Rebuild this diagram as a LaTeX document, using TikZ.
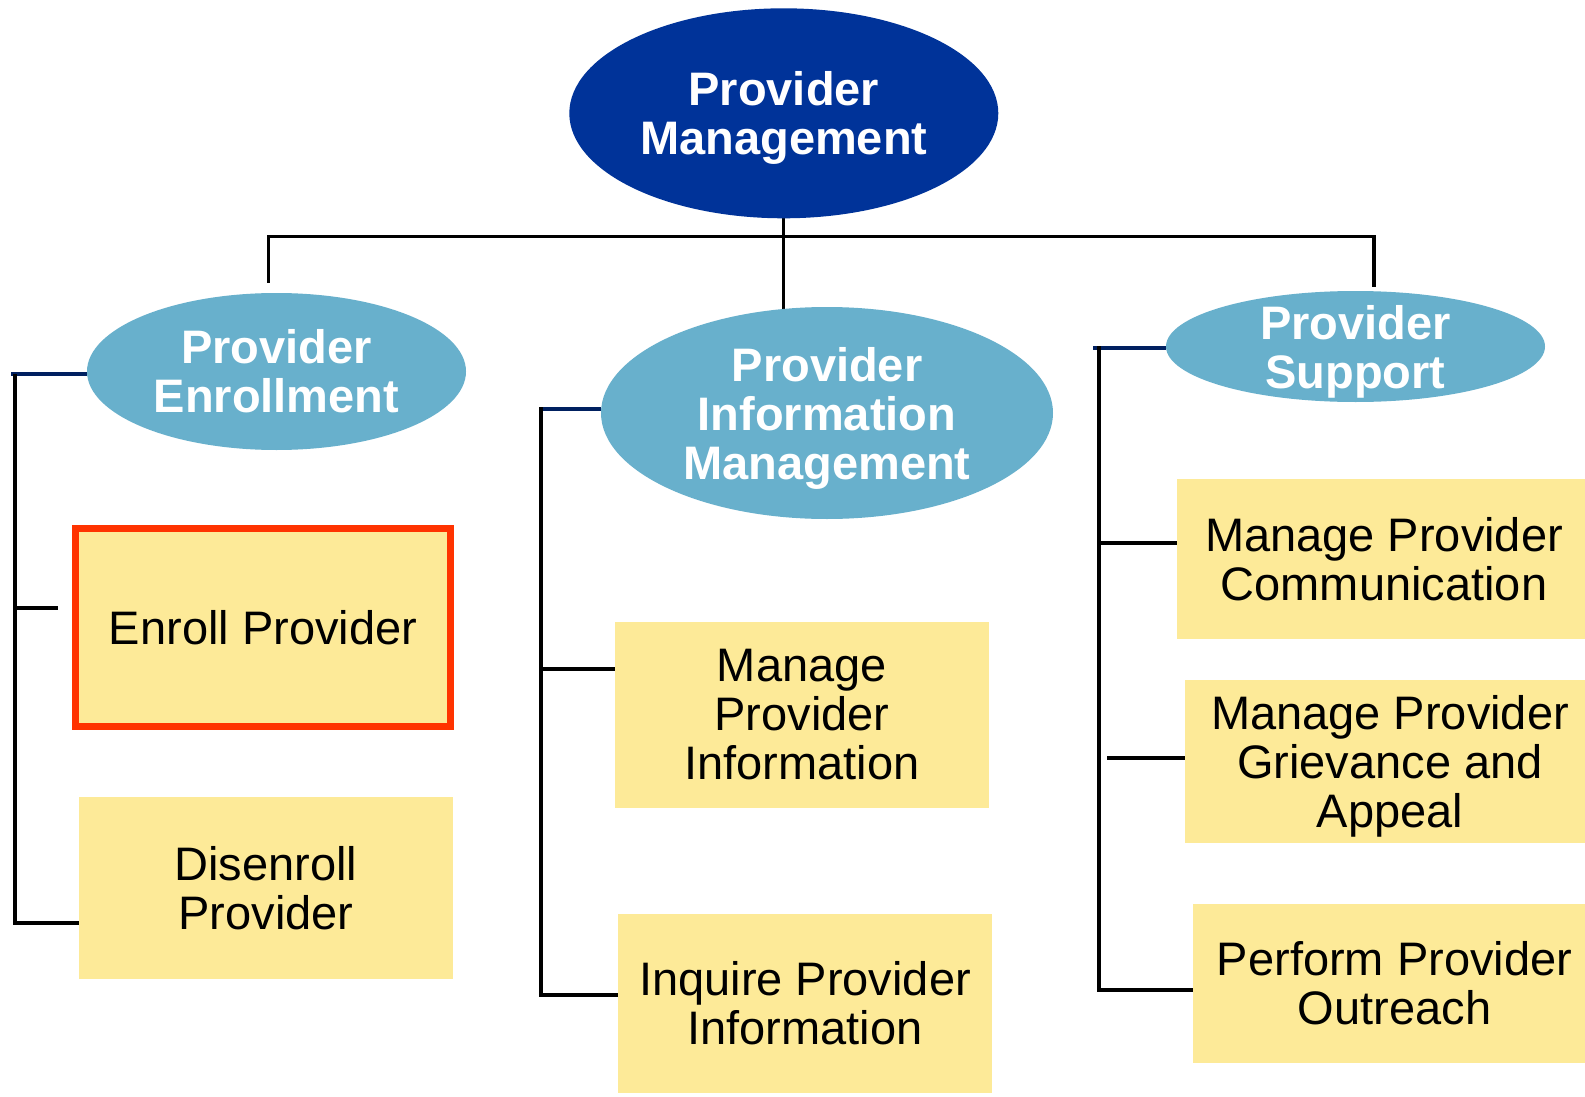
\documentclass[tikz,border=0pt]{standalone}
\usepackage{fontspec}
\setmainfont{Liberation Sans}
\usetikzlibrary{shapes.geometric}
\definecolor{pmblue}{RGB}{0,51,153}
\definecolor{subblue}{RGB}{104,176,204}
\definecolor{boxyellow}{RGB}{253,234,152}
\definecolor{hired}{RGB}{255,51,0}
\definecolor{tickblue}{RGB}{0,32,96}
\newcommand{\nodepth}[1]{\raisebox{0pt}[\height][0pt]{#1}}
\pgfdeclarelayer{bg}
\pgfsetlayers{bg,main}
\begin{document}
\begin{tikzpicture}[x=1pt,y=-1pt,
  every node/.style={inner sep=0pt,outer sep=0pt},
  topell/.style={ellipse,fill=pmblue,text=white,align=center,inner ysep=-25pt,
    font=\fontsize{47}{49}\selectfont\bfseries},
  subell/.style={ellipse,fill=subblue,text=white,align=center,inner ysep=-25pt,
    font=\fontsize{47}{49}\selectfont\bfseries},
  taskbox/.style={rectangle,fill=boxyellow,text=black,align=center,
    font=\fontsize{47}{49}\selectfont},
  link/.style={black,line width=3.2pt},
  headlink/.style={tickblue,line width=3.2pt}]
\useasboundingbox (0,0) rectangle (1585,1097);
\clip (0,0) rectangle (1585,1097);

% top level
\node[topell,minimum width=429pt,minimum height=210pt] (pm) at (783.8,113.3) {Provider\\\nodepth{Management}};

% second level
\node[subell,minimum width=379pt,minimum height=157pt] (pe) at (276.5,371.5) {Provider\\Enrollment};
\node[subell,minimum width=452pt,minimum height=212pt] (pim) at (827,413) {Provider\\Information\\\nodepth{Management}};
\node[subell,minimum width=379pt,minimum height=111pt] (ps) at (1355.5,346.5) {Provider\\\nodepth{Support}};

% tasks
\node[taskbox,draw=hired,line width=7.5pt,minimum width=374.6pt,minimum height=197.6pt] (enr) at (263,627.5) {Enroll Provider};
\node[taskbox,minimum width=374pt,minimum height=182pt] (dis) at (266,888) {Disenroll\\Provider};
\node[taskbox,minimum width=374.3pt,minimum height=186pt] (mpi) at (801.9,715) {Manage\\Provider\\Information};
\node[taskbox,minimum width=374pt,minimum height=179pt] (ipi) at (805,1003.5) {Inquire Provider\\Information};
\node[taskbox,minimum width=414pt,minimum height=160pt] (mpc) at (1384,559) {Manage Provider\\Communication};
\node[taskbox,minimum width=410pt,minimum height=163pt] (mpga) at (1390,761.5) {Manage Provider\\Grievance and\\\nodepth{Appeal}};
\node[taskbox,minimum width=403pt,minimum height=159pt] (ppo) at (1394.5,983.5) {Perform Provider\\Outreach};

\begin{pgfonlayer}{bg}
  \fill[white] (0,0) rectangle (1585,1097);
  % top bus
  \coordinate (busL) at (268.3,236.7);
  \coordinate (busR) at (1374,236.7);
  \coordinate (peDrop) at (268.3,282.7);
  \coordinate (psDrop) at (1374,287);
  \draw[link,line join=miter] (peDrop) -- (busL) -- (busR) -- (psDrop);
  \draw[link] (pm.south) -- (pm.south |- pim.center);
  % left column
  \coordinate (peLead) at (11,374);
  \draw[headlink] (peLead) -- (peLead -| pe.west);
  \coordinate (lTop) at (15,374);
  \coordinate (lBot) at (15,923);
  \draw[link,line join=miter] (lTop) -- (lBot) -- (lBot -| dis.west);
  \coordinate (enrTickA) at (13,608);
  \coordinate (enrTickB) at (58,608);
  \draw[link] (enrTickA) -- (enrTickB);
  % middle column
  \coordinate (pimLead) at (539,409);
  \draw[headlink] (pimLead) -- (pimLead -| pim.west);
  \coordinate (mTop) at (541,407);
  \coordinate (mBot) at (541,995);
  \draw[link,line join=miter] (mTop) -- (mBot) -- (mBot -| ipi.west);
  \coordinate (mpiTick) at (543,669);
  \draw[link] (mpiTick) -- (mpiTick -| mpi.west);
  % right column
  \coordinate (psLead) at (1093,348);
  \draw[headlink] (psLead) -- (psLead -| ps.west);
  \coordinate (rTop) at (1099,346);
  \coordinate (rBot) at (1099,990);
  \draw[link,line join=miter] (rTop) -- (rBot) -- (rBot -| ppo.west);
  \coordinate (mpcTick) at (1099,543);
  \draw[link] (mpcTick) -- (mpcTick -| mpc.west);
  \coordinate (mpgaTick) at (1107,758);
  \draw[link] (mpgaTick) -- (mpgaTick -| mpga.west);
\end{pgfonlayer}
\end{tikzpicture}
\end{document}
